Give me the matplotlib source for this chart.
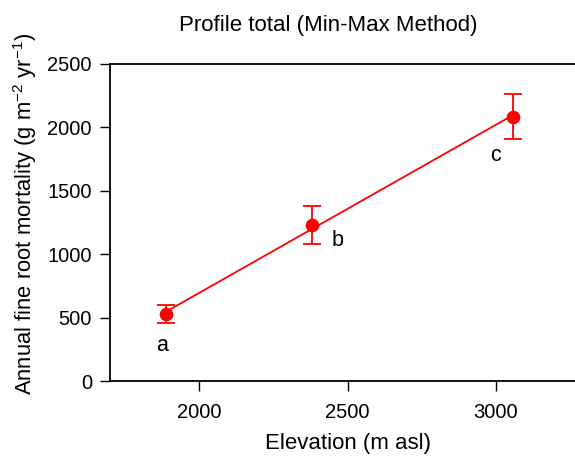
import numpy as np
import matplotlib
matplotlib.use("Agg")
import matplotlib.pyplot as plt

plt.rcParams['font.family'] = ['Liberation Sans', 'DejaVu Sans']
plt.rcParams['mathtext.default'] = 'regular'

# elevation (m asl) and annual fine root mortality (g m-2 yr-1)
elevation = [1889, 2379, 3058]
mortality = [528, 1230, 2084]
err = [70, 150, 178]
letters = ["a", "b", "c"]
letter_x = [1877, 2468, 2997]
letter_y = [284, 1112, 1782]

fig = plt.figure(figsize=(5.75, 4.59), dpi=100)
ax = fig.add_axes([0.1913, 0.1699, 0.8261, 0.6907])

# regression line over the range of the data
slope, icpt = np.polyfit(elevation, mortality, 1)
xs = np.array([min(elevation), max(elevation)])
ax.plot(xs, slope * xs + icpt, color="red", lw=1.3, zorder=2)

ax.errorbar(elevation, mortality, yerr=err, fmt="o", color="red",
            ms=8.8, capsize=6.8, elinewidth=1.3, capthick=1.3, zorder=3)

for lx, ly, t in zip(letter_x, letter_y, letters):
    ax.text(lx, ly, t, fontsize=15.5, ha="center", va="center")

ax.set_xlim(1700, 3300)
ax.set_ylim(0, 2500)
ax.set_xticks([2000, 2500, 3000])
ax.set_yticks([0, 500, 1000, 1500, 2000, 2500])
ax.tick_params(direction="out", length=7, width=1, labelsize=14.5, pad=6)
ax.tick_params(axis="x", pad=9)
for s in ["left", "bottom", "top"]:
    ax.spines[s].set_linewidth(1.3)
ax.spines["right"].set_visible(False)

ax.set_xlabel("Elevation (m asl)", fontsize=16, labelpad=8)
fig.text(25 / 575, 1 - 214 / 459, "Annual fine root mortality (g m$^{-2}$ yr$^{-1}$)",
         rotation=90, ha="center", va="center", fontsize=15.8)
fig.text(328 / 575, 1 - 25 / 459, "Profile total (Min-Max Method)",
         ha="center", va="center", fontsize=16)

fig.savefig("out.png", dpi=100)
